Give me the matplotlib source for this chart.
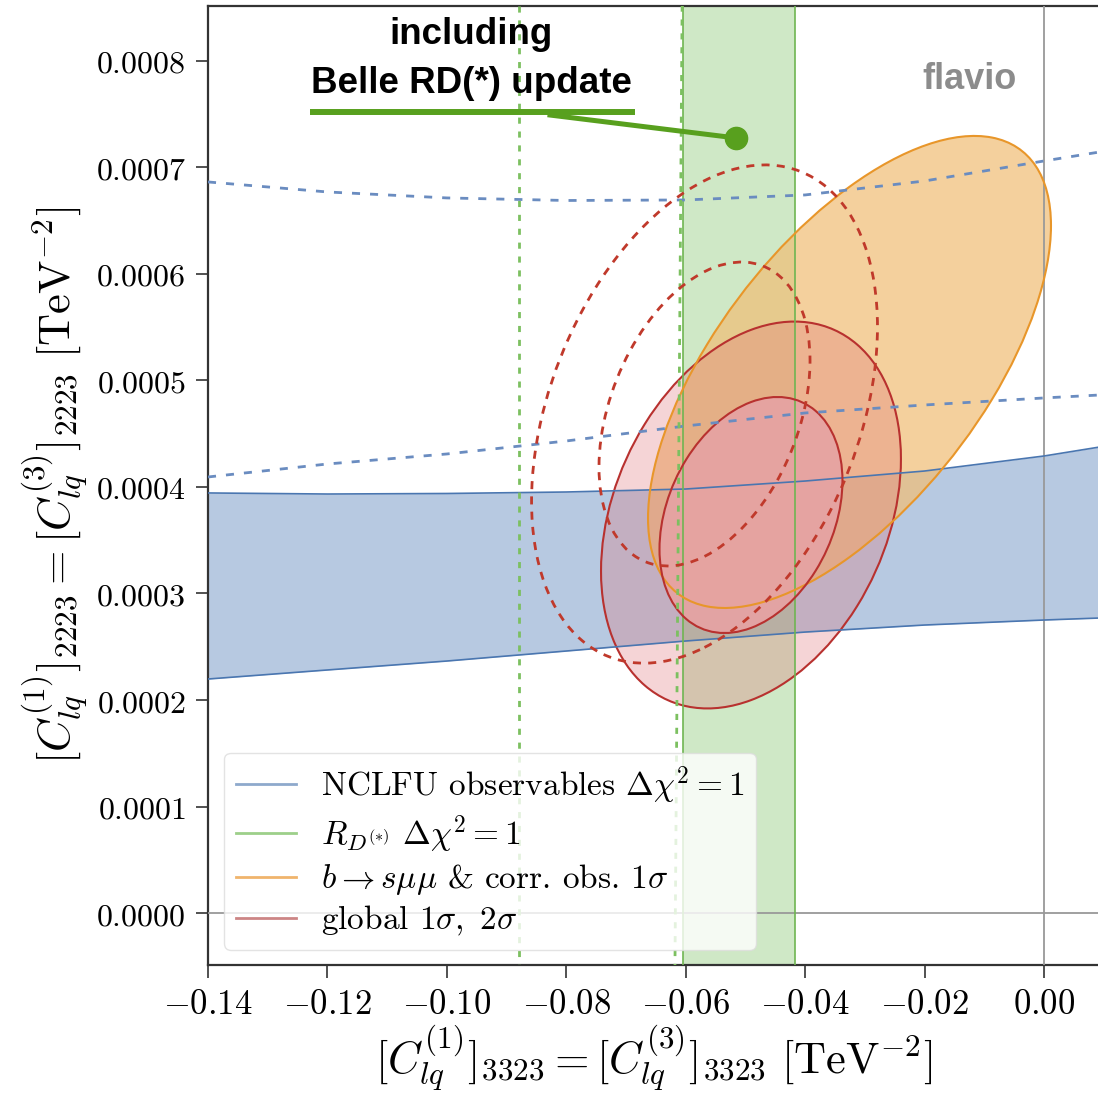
import numpy as np
import matplotlib

matplotlib.use("Agg")
import matplotlib.pyplot as plt
from matplotlib.lines import Line2D
from matplotlib.patches import Circle
from matplotlib.transforms import Affine2D

plt.rcParams["mathtext.fontset"] = "cm"

# --- data ---
band_x = [-0.14, -0.12, -0.10, -0.08, -0.06, -0.04, -0.02, 0.0, 0.0094]
nclfu_upper = [3.944e-4, 3.934e-4, 3.939e-4, 3.953e-4, 3.981e-4, 4.056e-4, 4.150e-4, 4.291e-4, 4.376e-4]
nclfu_lower = [2.197e-4, 2.282e-4, 2.366e-4, 2.460e-4, 2.554e-4, 2.638e-4, 2.704e-4, 2.751e-4, 2.770e-4]
old_nclfu_upper = [6.864e-4, 6.770e-4, 6.714e-4, 6.690e-4, 6.695e-4, 6.742e-4, 6.873e-4, 7.061e-4, 7.146e-4]
old_nclfu_lower = [4.094e-4, 4.216e-4, 4.310e-4, 4.432e-4, 4.573e-4, 4.695e-4, 4.770e-4, 4.836e-4, 4.864e-4]

rd_band = [-0.06045, -0.04170]
old_rd_left_x = [-0.0879, -0.0879]
old_rd_right_x = [-0.0606, -0.0618]
old_rd_y = [8.52e-4, -4.9e-5]

# ellipses: center, 1 sigma half extents (x, y), correlation
bsmumu_center = (-0.03257, 5.08e-4)
bsmumu_half = (0.03374, 2.216e-4)
bsmumu_rho = 0.62

global_center = (-0.04907, 3.737e-4)
global_half = (0.01532, 1.108e-4)
global_rho = 0.29

old_global_center = (-0.05685, 4.685e-4)
old_global_half = (0.01767, 1.427e-4)
old_global_rho = 0.35

two_sigma = np.sqrt(6.18 / 2.30)

xticks = [-0.14, -0.12, -0.10, -0.08, -0.06, -0.04, -0.02, 0.00]
yticks = [0.0, 0.0001, 0.0002, 0.0003, 0.0004, 0.0005, 0.0006, 0.0007, 0.0008]

legend_labels = [
    r"NCLFU observables $\Delta\chi^2 = 1$",
    r"$R_{D^{(*)}}\ \Delta\chi^2 = 1$",
    r"$b \to s\mu\mu$ & corr. obs. $1\sigma$",
    r"global $1\sigma,\ 2\sigma$",
]

c_blue = "#4a76b0"
c_green = "#6fb552"
c_orange = "#e8962a"
c_red = "#b8312f"
c_anno = "#58a01e"


def ellipse(ax, center, half, rho, scale=1.0, **kw):
    hx, hy = half[0] * scale, half[1] * scale
    m = np.array([[hx, 0.0, center[0]],
                  [hy * rho, hy * np.sqrt(1 - rho ** 2), center[1]],
                  [0.0, 0.0, 1.0]])
    patch = Circle((0, 0), 1.0, transform=Affine2D(m) + ax.transData, **kw)
    ax.add_patch(patch)
    return patch


fig = plt.figure(figsize=(10.98, 10.98), dpi=100)
ax = fig.add_axes([208 / 1098, 133 / 1098, 892 / 1098, 959 / 1098])

# NCLFU band
ax.fill_between(band_x, nclfu_lower, nclfu_upper, color="#b7c9e1", lw=0, zorder=1)
ax.plot(band_x, nclfu_upper, color=c_blue, lw=1.2, zorder=7)
ax.plot(band_x, nclfu_lower, color=c_blue, lw=1.2, zorder=7)
ax.plot(band_x, old_nclfu_upper, color="#6a8cc0", lw=2, dashes=(2.9, 3.6), zorder=8)
ax.plot(band_x, old_nclfu_lower, color="#6a8cc0", lw=2, dashes=(2.9, 3.6), zorder=8)

# R_D band
ax.axvspan(rd_band[0], rd_band[1], color=(0.59, 0.80, 0.51, 0.45), lw=0, zorder=2)
for xv in rd_band:
    ax.axvline(xv, color=c_green, lw=1.2, zorder=7)
ax.plot(old_rd_left_x, old_rd_y, color="#7cc060", lw=2, dashes=(2.2, 2.8), zorder=8)
ax.plot(old_rd_right_x, old_rd_y, color="#7cc060", lw=2, dashes=(2.2, 2.8), zorder=8)

# b -> s mu mu
ellipse(ax, bsmumu_center, bsmumu_half, bsmumu_rho,
        facecolor=(0.94, 0.75, 0.47, 0.72), lw=0, zorder=3)
ellipse(ax, bsmumu_center, bsmumu_half, bsmumu_rho,
        fill=False, edgecolor=c_orange, lw=1.5, zorder=7)

# global fit
ellipse(ax, global_center, global_half, global_rho, two_sigma,
        facecolor=(0.88, 0.45, 0.47, 0.3), edgecolor=c_red, lw=1.5, zorder=4)
ellipse(ax, global_center, global_half, global_rho,
        facecolor=(0.90, 0.64, 0.64, 0.92), lw=0, zorder=4.5)
ellipse(ax, global_center, global_half, global_rho,
        fill=False, edgecolor=c_red, lw=1.5, zorder=7.5)
ellipse(ax, old_global_center, old_global_half, old_global_rho, two_sigma,
        fill=False, edgecolor="#c0392b", lw=2, ls=(0, (2.9, 2.6)), zorder=8)
ellipse(ax, old_global_center, old_global_half, old_global_rho,
        fill=False, edgecolor="#c0392b", lw=2, ls=(0, (2.9, 2.6)), zorder=8)

ax.axvline(0, color="#999999", lw=1.3, zorder=6)
ax.axhline(0, color="#999999", lw=1.3, zorder=6)

ax.set_xlim(-0.14, -0.14 + 892 / 5971.4)
ax.set_ylim(-4.88e-5, 8.516e-4)

ax.set_xticks(xticks, labels=[f"${v:.2f}$" for v in xticks])
ax.set_yticks(yticks, labels=[f"${v:.4f}$" for v in yticks])
ax.tick_params(axis="both", direction="out", length=9, width=1.2,
               color="#333333", pad=7)
ax.tick_params(axis="x", labelsize=25)
ax.tick_params(axis="y", labelsize=23)
for side in ["left", "bottom", "top"]:
    ax.spines[side].set_color("#333333")
    ax.spines[side].set_linewidth(1.6)
ax.spines["right"].set_visible(False)

ax.set_xlabel(r"$[C_{lq}^{(1)}]_{3323} = [C_{lq}^{(3)}]_{3323}\ [\mathrm{TeV}^{-2}]$",
              fontsize=32, labelpad=2)
ax.set_ylabel(r"$[C_{lq}^{(1)}]_{2223} = [C_{lq}^{(3)}]_{2223}\ [\mathrm{TeV}^{-2}]$",
              fontsize=32, labelpad=4)

handles = [
    Line2D([], [], color="#8ea9cc", lw=2),
    Line2D([], [], color="#9dcf8a", lw=2),
    Line2D([], [], color="#f0b46c", lw=2),
    Line2D([], [], color="#cc8585", lw=2),
]
leg = ax.legend(handles, legend_labels, loc="lower left", bbox_to_anchor=(0.018, 0.016),
                borderaxespad=0, prop={"family": "cmr10", "size": 24}, handlelength=1.8,
                handletextpad=0.75, labelspacing=0.2, borderpad=0.35, framealpha=0.8,
                fancybox=True)
leg.get_frame().set_edgecolor("#dddddd")
leg.set_zorder(10)

# flavio logo
ax.text(0.854, 0.923, "flavio", transform=ax.transAxes, ha="center", va="center",
        fontsize=26, fontweight="bold", color="#8c8c8c", family="Liberation Sans", zorder=7)

# annotation
ax.text(0.2948, 0.9708, "including", transform=ax.transAxes, ha="center", va="center",
        fontsize=26.5, fontweight="bold", family="Liberation Sans", zorder=11)
ax.text(0.2948, 0.9197, "Belle RD(*) update", transform=ax.transAxes, ha="center",
        va="center", fontsize=26.5, fontweight="bold", family="Liberation Sans", zorder=11)
ax.plot([0.1143, 0.4787], [0.8895, 0.8895], transform=ax.transAxes, color=c_anno,
        lw=4.3, solid_capstyle="butt", zorder=11)
ax.plot([0.3834, 0.5919], [0.8863, 0.8624], transform=ax.transAxes, color=c_anno,
        lw=3.6, zorder=11)
ax.plot([0.5919], [0.8624], "o", transform=ax.transAxes, color=c_anno, ms=16, zorder=11)

fig.savefig("out.png", dpi=100)
